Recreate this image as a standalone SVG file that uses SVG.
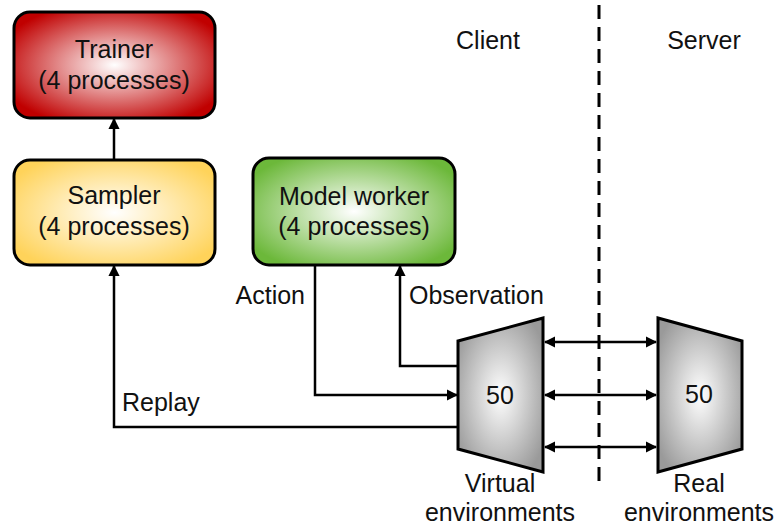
<svg xmlns="http://www.w3.org/2000/svg" width="775" height="529" viewBox="0 0 775 529">
<defs>
<radialGradient id="gRed" cx="50%" cy="50%" r="60%">
<stop offset="0" stop-color="#ffffff"/><stop offset="1" stop-color="#c00000"/>
</radialGradient>
<radialGradient id="gYel" cx="50%" cy="50%" r="60%">
<stop offset="0" stop-color="#ffffff"/><stop offset="1" stop-color="#ffd35a"/>
</radialGradient>
<radialGradient id="gGrn" cx="50%" cy="50%" r="60%">
<stop offset="0" stop-color="#ffffff"/><stop offset="1" stop-color="#6cb83a"/>
</radialGradient>
<radialGradient id="gGry" cx="50%" cy="50%" r="60%">
<stop offset="0" stop-color="#ffffff"/><stop offset="1" stop-color="#9a9a9a"/>
</radialGradient>
<marker id="ah" viewBox="0 0 10 10" refX="9" refY="5" markerWidth="4.5" markerHeight="4.5" orient="auto-start-reverse" markerUnits="strokeWidth">
<path d="M0,0 L10,5 L0,10 z" fill="#000"/>
</marker>
</defs>
<style>
.box{stroke:#000;stroke-width:3}
.t{font-family:"Liberation Sans",Arial,sans-serif;font-size:25px;fill:#111}
.c{text-anchor:middle}
.ln{fill:none;stroke:#000;stroke-width:2.5}
</style>
<rect width="775" height="529" fill="#fff"/>
<g id="trainer">
<rect class="box" x="14" y="12" width="201" height="106" rx="16" fill="url(#gRed)"/>
<text class="t c" x="114" y="58">Trainer</text>
<text class="t c" x="114" y="89">(4 processes)</text>
</g>
<g id="sampler">
<rect class="box" x="14" y="160" width="201" height="105" rx="16" fill="url(#gYel)"/>
<text class="t c" x="114" y="204">Sampler</text>
<text class="t c" x="114" y="235">(4 processes)</text>
</g>
<g id="model-worker">
<rect class="box" x="253" y="158" width="202" height="107" rx="16" fill="url(#gGrn)"/>
<text class="t c" x="354" y="205">Model worker</text>
<text class="t c" x="354" y="235">(4 processes)</text>
</g>
<g id="virtual-env">
<polygon class="box" points="458,341 543,318 543,472 458,449" fill="url(#gGry)"/>
<text class="t c" x="500" y="404">50</text>
<text class="t c" x="500" y="492">Virtual</text>
<text class="t c" x="500" y="521">environments</text>
</g>
<g id="real-env">
<polygon class="box" points="658,318 742,341 742,449 658,472" fill="url(#gGry)"/>
<text class="t c" x="699" y="403">50</text>
<text class="t c" x="699" y="492">Real</text>
<text class="t c" x="699" y="521">environments</text>
</g>
<g id="labels">
<text class="t c" x="488" y="49">Client</text>
<text class="t c" x="704" y="49">Server</text>
<text class="t" x="305" y="304" text-anchor="end">Action</text>
<text class="t" x="409" y="304">Observation</text>
<text class="t" x="122" y="411">Replay</text>
</g>
<g id="connectors">
<line x1="599" y1="5" x2="599" y2="484" stroke="#000" stroke-width="3" stroke-dasharray="14,8"/>
<line class="ln" x1="114" y1="160" x2="114" y2="119" marker-end="url(#ah)"/>
<polyline class="ln" points="458,427 114,427 114,266" marker-end="url(#ah)"/>
<polyline class="ln" points="315,265 315,395 457,395" marker-end="url(#ah)"/>
<polyline class="ln" points="458,366 400,366 400,266" marker-end="url(#ah)"/>
<line class="ln" x1="545" y1="342" x2="656" y2="342" marker-start="url(#ah)" marker-end="url(#ah)"/>
<line class="ln" x1="545" y1="395" x2="656" y2="395" marker-start="url(#ah)" marker-end="url(#ah)"/>
<line class="ln" x1="545" y1="447" x2="656" y2="447" marker-start="url(#ah)" marker-end="url(#ah)"/>
</g>
</svg>
